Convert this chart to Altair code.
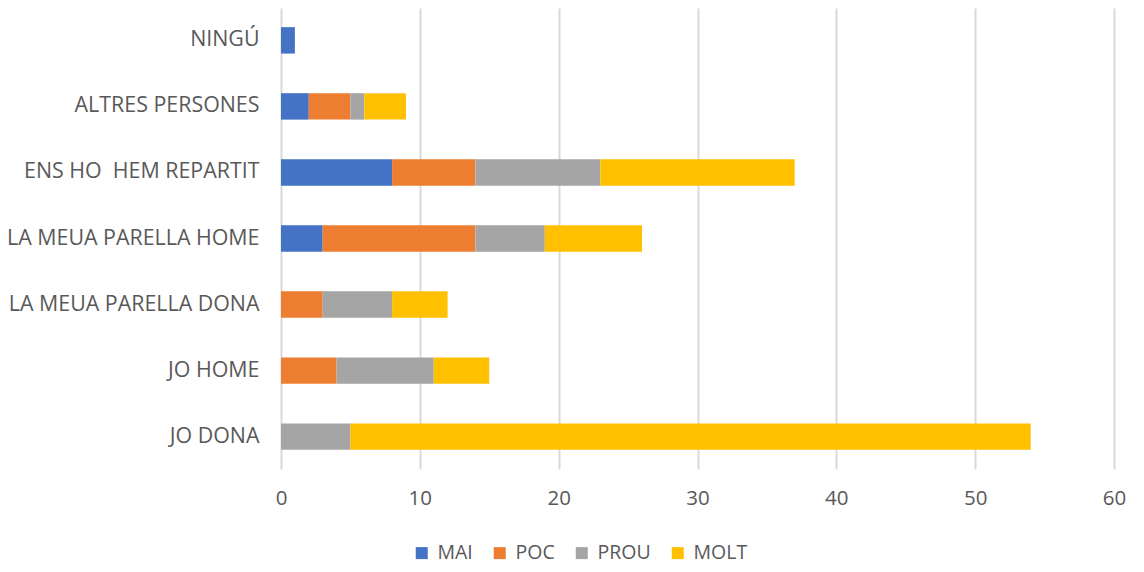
import altair as alt
import pandas as pd

categories = ["NINGÚ", "ALTRES PERSONES", "ENS HO\u00a0 HEM REPARTIT", "LA MEUA PARELLA HOME",
              "LA MEUA PARELLA DONA", "JO HOME", "JO DONA"]
series = ["MAI", "POC", "PROU", "MOLT"]
colors = ["#4472C4", "#ED7D31", "#A5A5A5", "#FFC000"]
mai = [1, 2, 8, 3, 0, 0, 0]
poc = [0, 3, 6, 11, 3, 4, 0]
prou = [0, 1, 9, 5, 5, 7, 5]
molt = [0, 3, 14, 7, 4, 4, 49]

rows = []
for s_i, (s, vals) in enumerate(zip(series, [mai, poc, prou, molt])):
    for c, v in zip(categories, vals):
        if v > 0:
            rows.append({"cat": c, "serie": s, "val": v, "ord": s_i})
df = pd.DataFrame(rows)

FONT = "Open Sans"
GREY = "#595959"

chart = alt.Chart(df).mark_bar().encode(
    y=alt.Y("cat:N", sort=categories, title=None,
            scale=alt.Scale(paddingInner=0.6, paddingOuter=0.29),
            axis=alt.Axis(labelFontSize=21.4, labelColor=GREY, labelFont=FONT,
                          ticks=False, domain=False, labelPadding=22, grid=False,
                          labelLimit=400)),
    x=alt.X("val:Q", title=None, stack="zero",
            scale=alt.Scale(domain=[0, 60], nice=False),
            axis=alt.Axis(values=[0, 10, 20, 30, 40, 50, 60], labelFontSize=20.5,
                          labelColor=GREY, labelFont=FONT, ticks=False, domain=False,
                          labelFlush=False,
                          gridColor="#D9D9D9", gridWidth=2, labelPadding=19)),
    color=alt.Color("serie:N", sort=series,
                    scale=alt.Scale(domain=series, range=colors),
                    legend=alt.Legend(title=None, orient="none", direction="horizontal",
                                      legendX=131, legendY=535, symbolType="square",
                                      symbolSize=144, symbolStrokeWidth=0,
                                      labelFontSize=19.5, labelColor=GREY, labelFont=FONT,
                                      labelOffset=6, columnPadding=17, symbolOffset=0)),
    order=alt.Order("ord:Q"),
).properties(
    width=833, height=461,
    autosize=alt.AutoSizeParams(type="none"),
    padding={"left": 273, "top": 0, "right": 22, "bottom": 95},
).configure_view(stroke=None)

chart.save("out.html", embed_options={"renderer": "svg", "actions": False})
